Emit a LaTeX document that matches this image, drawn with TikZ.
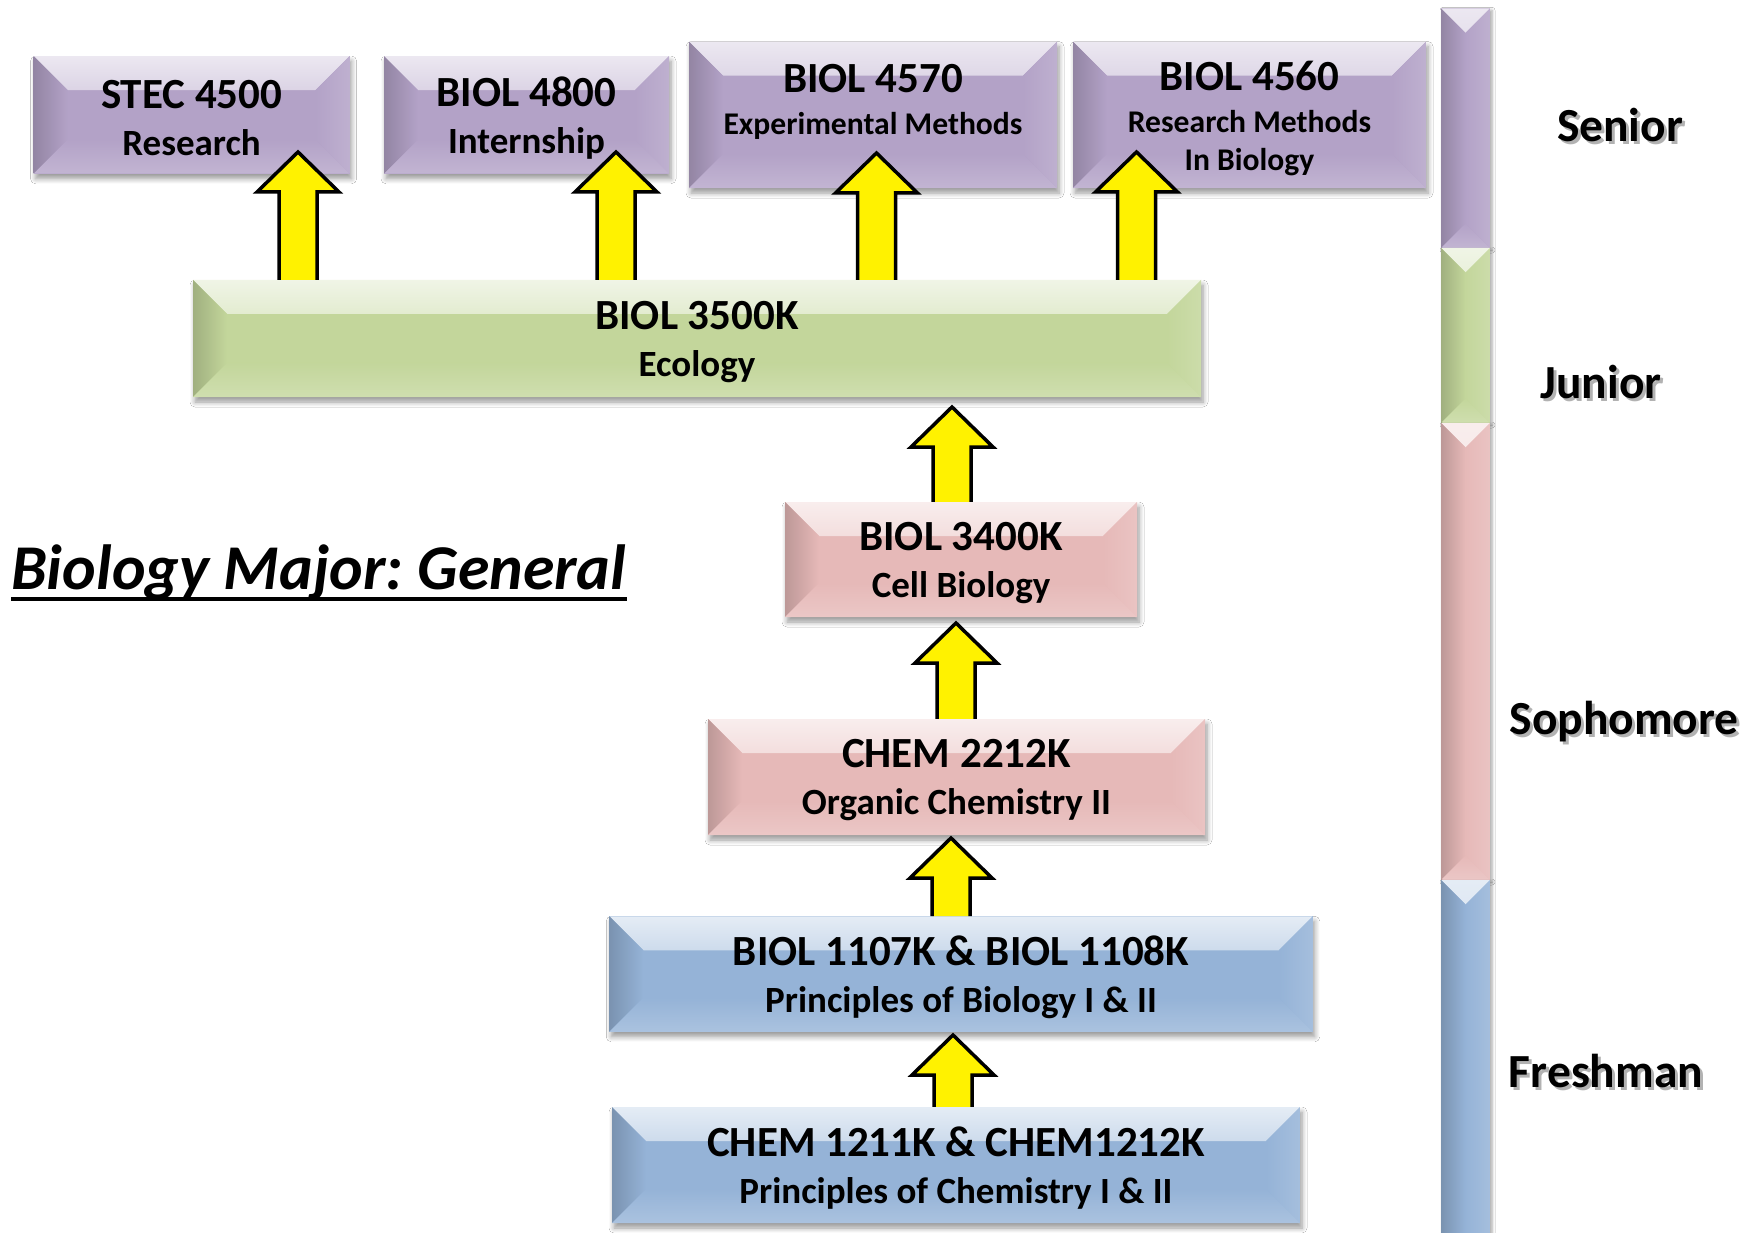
\documentclass[tikz,border=0pt]{standalone}
\usepackage{fontspec}
\setmainfont{Carlito}
\frenchspacing
\usetikzlibrary{calc,shadows.blur}
\definecolor{purp}{HTML}{B3A2C7}
\definecolor{grn}{HTML}{C3D69B}
\definecolor{pnk}{HTML}{E6B9B8}
\definecolor{blu}{HTML}{95B3D7}
\newcommand\cfont{\bfseries\fontsize{43}{47}\selectfont}
\newcommand\sfont{\fontsize{37}{44}\selectfont}
\newcommand\ssfont{\fontsize{31.6}{38}\selectfont}
\tikzset{
  bevelbox/.style 2 args={fill=#1, draw=none, inner sep=0pt, align=center,
    path picture={
      \shade[top color=#1!25!white, bottom color=#1]
        (path picture bounding box.north west) -- (path picture bounding box.north east)
        -- ([shift={(-#2,-#2)}]path picture bounding box.north east)
        -- ([shift={(#2,-#2)}]path picture bounding box.north west) -- cycle;
      \shade[left color=#1!82!black, right color=#1]
        (path picture bounding box.north west) -- ([shift={(#2,-#2)}]path picture bounding box.north west)
        -- ([shift={(#2,#2)}]path picture bounding box.south west)
        -- (path picture bounding box.south west) -- cycle;
      \shade[left color=#1, right color=#1!85!white]
        (path picture bounding box.north east) -- ([shift={(-#2,-#2)}]path picture bounding box.north east)
        -- ([shift={(-#2,#2)}]path picture bounding box.south east)
        -- (path picture bounding box.south east) -- cycle;
      \shade[top color=#1, bottom color=#1!80!white]
        (path picture bounding box.south west) -- ([shift={(#2,#2)}]path picture bounding box.south west)
        -- ([shift={(-#2,#2)}]path picture bounding box.south east)
        -- (path picture bounding box.south east) -- cycle;
    }},
  course/.style={bevelbox={#1}{34pt},
    blur shadow={shadow xshift=2pt, shadow yshift=-5pt, shadow blur radius=5pt, shadow blur steps=6, shadow opacity=40}},
  ctext/.style={label={[align=center, font=\cfont, inner sep=0pt, yshift=-3.5pt]center:{#1}}},
  yearbar/.style={bevelbox={#1}{24.5pt}, minimum width=49pt,
    blur shadow={shadow xshift=2pt, shadow yshift=-2pt, shadow blur radius=3pt, shadow blur steps=4, shadow opacity=35}},
  arrowsty/.style={fill=yellow, draw=black, line width=3.5pt, line join=miter},
  yearlabel/.style={font=\bfseries\fontsize{47.5}{55}\selectfont, anchor=base, inner sep=0pt},
  labelshadow/.style={yearlabel, text=black, opacity=0.3},
}
\newcommand\blockarrow[2]{%
  \draw[arrowsty] let \p1=(#1), \p2=(#2) in
    (\x1-19pt,\y1) -- (\x1-19pt,\y2-40pt) -- (\x1-41pt,\y2-40pt) -- (\x1,\y2)
    -- (\x1+41pt,\y2-40pt) -- (\x1+19pt,\y2-40pt) -- (\x1+19pt,\y1);
}
\begin{document}
\begin{tikzpicture}[x=1pt,y=-1pt]
\useasboundingbox (0,0) rectangle (1757,1233);
\fill[white] (0,0) rectangle (1757,1233);

% year bar
\node[yearbar=purp, minimum height=239.7pt] (barsen) at (1465.5,128.2) {};
\node[yearbar=grn, minimum height=175pt] (barjun) at (1465.5,335.5) {};
\node[yearbar=pnk, minimum height=457pt] (barsop) at (1465.5,651.5) {};
\node[yearbar=blu, minimum height=385pt] (barfre) at (1465.5,1072.5) {};

% senior courses
\node[course=purp, minimum width=316pt, minimum height=117.7pt,
  ctext={STEC 4500\\{\sfont Research}}] (stec) at (191.6,114.9) {};
\node[course=purp, minimum width=285pt, minimum height=117.7pt,
  ctext={BIOL 4800\\{\sfont Internship}}] (b4800) at (526.5,114.9) {};
\node[course=purp, minimum width=368pt, minimum height=146.5pt,
  ctext={BIOL 4570\\[-5pt]{\ssfont Experimental Methods}\\[-9pt]{\ssfont\phantom{I}}}] (b4570) at (873,114.8) {};
\node[course=purp, minimum width=353pt, minimum height=146.5pt,
  ctext={BIOL 4560\\[-5pt]{\ssfont Research Methods}\\[-9pt]{\ssfont In Biology}}] (b4560) at (1249.5,114.8) {};

% junior
\node[course=grn, minimum width=1008pt, minimum height=117pt,
  ctext={BIOL 3500K\\{\sfont Ecology}}] (eco) at (697,338.5) {};

% sophomore
\node[course=pnk, minimum width=352pt, minimum height=115pt,
  ctext={BIOL 3400K\\{\sfont Cell Biology}}] (cell) at (961,559.5) {};
\node[course=pnk, minimum width=497pt, minimum height=116pt,
  ctext={CHEM 2212K\\{\sfont Organic Chemistry II}}] (org) at (956.5,777) {};

% freshman
\node[course=blu, minimum width=703.5pt, minimum height=115.5pt,
  ctext={BIOL 1107K \& BIOL 1108K\\{\sfont Principles of Biology I \& II}}] (pbio) at (961,974) {};
\node[course=blu, minimum width=688pt, minimum height=116pt,
  ctext={CHEM 1211K \& CHEM1212K\\{\sfont Principles of Chemistry I \& II}}] (pchem) at (956,1165) {};

% arrow tips
\coordinate (t1) at (298,152);
\coordinate (t2) at (616,152);
\coordinate (t3) at (876.5,153);
\coordinate (t4) at (1136.5,152);
\coordinate (t5) at (952,407);
\coordinate (t6) at (956,623);
\coordinate (t7) at (951,838);
\coordinate (t8) at (953,1035);

\blockarrow{eco.north -| t1}{t1}
\blockarrow{eco.north -| t2}{t2}
\blockarrow{eco.north -| t3}{t3}
\blockarrow{eco.north -| t4}{t4}
\blockarrow{cell.north -| t5}{t5}
\blockarrow{org.north -| t6}{t6}
\blockarrow{pbio.north -| t7}{t7}
\blockarrow{pchem.north -| t8}{t8}

% title
\node[anchor=base west, inner sep=0pt, font=\bfseries\itshape\fontsize{63.8}{70}\selectfont] (title) at (11,589) {Biology Major: General};
\draw[line width=4pt] ([yshift=-10pt]title.base west) -- ([yshift=-10pt]title.base east);

% year labels
\node[labelshadow] (senS) at (1623,145) {Senior};
\node[yearlabel] (sen) at (1620,142) {Senior};
\node[labelshadow] (junS) at (1604,402) {Junior};
\node[yearlabel] (jun) at (1601,399) {Junior};
\node[labelshadow] (sopS) at (1627,737) {Sophomore};
\node[yearlabel] (sop) at (1624,734) {Sophomore};
\node[labelshadow] (freS) at (1609,1090) {Freshman};
\node[yearlabel] (fre) at (1606,1087) {Freshman};
\end{tikzpicture}
\end{document}
